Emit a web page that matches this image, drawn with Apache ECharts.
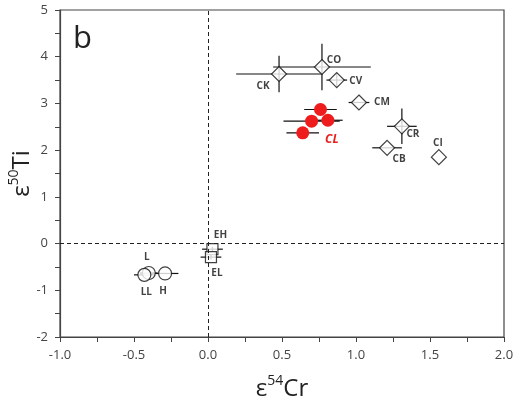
<!DOCTYPE html>
<html>
<head>
<meta charset="utf-8">
<script src="https://cdn.jsdelivr.net/npm/echarts@6/dist/echarts.min.js"></script>
<style>
  html, body { margin: 0; padding: 0; background: #fff; }
  #chart { width: 518px; height: 399px; }
</style>
</head>
<body>
<div id="chart"></div>
<script>
// chondrite groups (diamonds)
var diamondNames = ['CK', 'CO', 'CV', 'CM', 'CR', 'CB', 'CI']
var diamondX = [0.48, 0.77, 0.87, 1.02, 1.31, 1.21, 1.56]
var diamondY = [3.63, 3.78, 3.50, 3.02, 2.51, 2.05, 1.85]
var diamondXErr = [0.29, 0.33, 0.07, 0.07, 0.10, 0.10, 0]
var diamondYErr = [0.39, 0.50, 0.15, 0, 0.38, 0, 0]

// CL samples (red circles)
var clX = [0.76, 0.70, 0.81, 0.64]
var clY = [2.87, 2.62, 2.64, 2.37]
var clXErr = [0.11, 0.19, 0.10, 0.11]
var clYErr = [0, 0, 0, 0]

// ordinary chondrites (open circles)
var ocNames = ['L', 'LL', 'H']
var ocX = [-0.40, -0.43, -0.29]
var ocY = [-0.63, -0.67, -0.64]
var ocXErr = [0.06, 0.07, 0.09]
var ocYErr = [0, 0, 0]

// enstatite chondrites (squares)
var ecNames = ['EH', 'EL']
var ecX = [0.03, 0.02]
var ecY = [-0.12, -0.29]
var ecXErr = [0.07, 0.07]
var ecYErr = [0.05, 0.05]

// label offsets (px) from symbol centre
var diamondLabelOffset = [[-16, 12], [12, -7], [19, 1], [23, 0], [11, 8], [12, 11], [-1, -14]]
var ocLabelOffset = [[-2, -16], [2, 17], [-2, 18]]
var ecLabelOffset = [[8, -14], [6, 16]]

function errRows(xs, ys, xe, ye) {
  return xs.map(function(x, i) {
    return [x, ys[i], xe[i], ye[i]]
  })
}

var errData = []
  .concat(errRows(diamondX, diamondY, diamondXErr, diamondYErr))
  .concat(errRows(clX, clY, clXErr, clYErr))
  .concat(errRows(ocX, ocY, ocXErr, ocYErr))
  .concat(errRows(ecX, ecY, ecXErr, ecYErr))

var labelFont = {
  fontFamily: 'Open Sans',
  fontSize: 10,
  fontWeight: 'bold',
  color: '#111'
}

function pointData(xs, ys, names, offsets) {
  return xs.map(function(x, i) {
    var item = { value: [x, ys[i]], name: names ? names[i] : '' }
    if (names) {
      item.label = Object.assign({
        show: true,
        position: 'inside',
        offset: offsets[i],
        formatter: names[i]
      }, labelFont)
    }
    return item
  })
}

var clData = pointData(clX, clY, null, null)
clData[2].label = {
  show: true,
  position: 'inside',
  offset: [4, 19],
  formatter: 'CL',
  fontFamily: 'Open Sans',
  fontSize: 12,
  fontWeight: 'bold',
  fontStyle: 'italic',
  color: '#e8201c'
}

var nameRich = {
  a: { fontFamily: 'Open Sans', fontSize: 24, color: '#222', lineHeight: 30 },
  s: { fontFamily: 'Open Sans', fontSize: 14, color: '#222', verticalAlign: 'top', lineHeight: 16 }
}

var chart = echarts.init(document.getElementById('chart'))
chart.setOption({
  animation: false,
  backgroundColor: '#fff',
  title: {
    text: 'b',
    left: 68,
    top: 19,
    textStyle: { fontFamily: 'Open Sans', fontSize: 31, fontWeight: 'normal', color: '#222' }
  },
  grid: {
    left: 60,
    right: 14,
    top: 10,
    bottom: 62,
    containLabel: false,
    outerBoundsMode: 'none',
    show: true,
    borderColor: '#444',
    borderWidth: 1.2
  },
  xAxis: {
    type: 'value',
    min: -1,
    max: 2,
    interval: 0.5,
    name: '{a|ε}{s|54}{a|Cr}',
    nameLocation: 'middle',
    nameGap: 37,
    nameMoveOverlap: false,
    nameTextStyle: { rich: nameRich },
    axisLine: { onZero: false, lineStyle: { color: '#444', width: 1.2 } },
    axisTick: { inside: false, length: 5, lineStyle: { color: '#444' } },
    minorTick: { show: true, splitNumber: 2, length: 5, lineStyle: { color: '#444' } },
    splitLine: { show: false },
    axisLabel: {
      margin: 12,
      fontFamily: 'Open Sans',
      fontSize: 13,
      color: '#444',
      formatter: function(v) { return v.toFixed(1) }
    }
  },
  yAxis: {
    type: 'value',
    min: -2,
    max: 5,
    interval: 1,
    name: '{a|ε}{s|50}{a|Ti}',
    nameLocation: 'middle',
    nameRotate: 90,
    nameGap: 23,
    nameMoveOverlap: false,
    nameTextStyle: { rich: nameRich },
    axisLine: { onZero: false, lineStyle: { color: '#444', width: 1.2 } },
    axisTick: { inside: false, length: 5, lineStyle: { color: '#444' } },
    minorTick: { show: true, splitNumber: 2, length: 5, lineStyle: { color: '#444' } },
    splitLine: { show: false },
    axisLabel: {
      margin: 12,
      fontFamily: 'Open Sans',
      fontSize: 13,
      color: '#444'
    }
  },
  series: [
    {
      // error bars
      type: 'custom',
      z: 1,
      silent: true,
      data: errData,
      renderItem: function(params, api) {
        var x = api.value(0)
        var y = api.value(1)
        var xe = api.value(2)
        var ye = api.value(3)
        var children = []
        var style = { stroke: '#111', lineWidth: 1.2 }
        if (xe > 0) {
          var a = api.coord([x - xe, y])
          var b = api.coord([x + xe, y])
          children.push({ type: 'line', shape: { x1: a[0], y1: a[1], x2: b[0], y2: b[1] }, style: style })
        }
        if (ye > 0) {
          var c = api.coord([x, y - ye])
          var d = api.coord([x, y + ye])
          children.push({ type: 'line', shape: { x1: c[0], y1: c[1], x2: d[0], y2: d[1] }, style: style })
        }
        return { type: 'group', children: children }
      },
      markLine: {
        silent: true,
        symbol: 'none',
        label: { show: false },
        lineStyle: { type: [4, 3], color: '#222', width: 1 },
        data: [{ xAxis: 0 }, { yAxis: 0 }]
      }
    },
    {
      type: 'scatter',
      z: 3,
      symbol: 'diamond',
      symbolSize: 15,
      itemStyle: { color: '#fff', borderColor: '#111', borderWidth: 1.2 },
      data: pointData(diamondX, diamondY, diamondNames, diamondLabelOffset)
    },
    {
      type: 'scatter',
      z: 3,
      symbol: 'circle',
      symbolSize: 13,
      itemStyle: { color: '#ee1c1c', opacity: 1 },
      data: clData
    },
    {
      type: 'scatter',
      z: 3,
      symbol: 'circle',
      symbolSize: 13,
      itemStyle: { color: '#fff', borderColor: '#111', borderWidth: 1.2 },
      data: pointData(ocX, ocY, ocNames, ocLabelOffset)
    },
    {
      type: 'scatter',
      z: 3,
      symbol: 'rect',
      symbolSize: [11, 11],
      itemStyle: { color: '#fff', borderColor: '#111', borderWidth: 1.2 },
      data: pointData(ecX, ecY, ecNames, ecLabelOffset)
    }
  ]
})
</script>
</body>
</html>
